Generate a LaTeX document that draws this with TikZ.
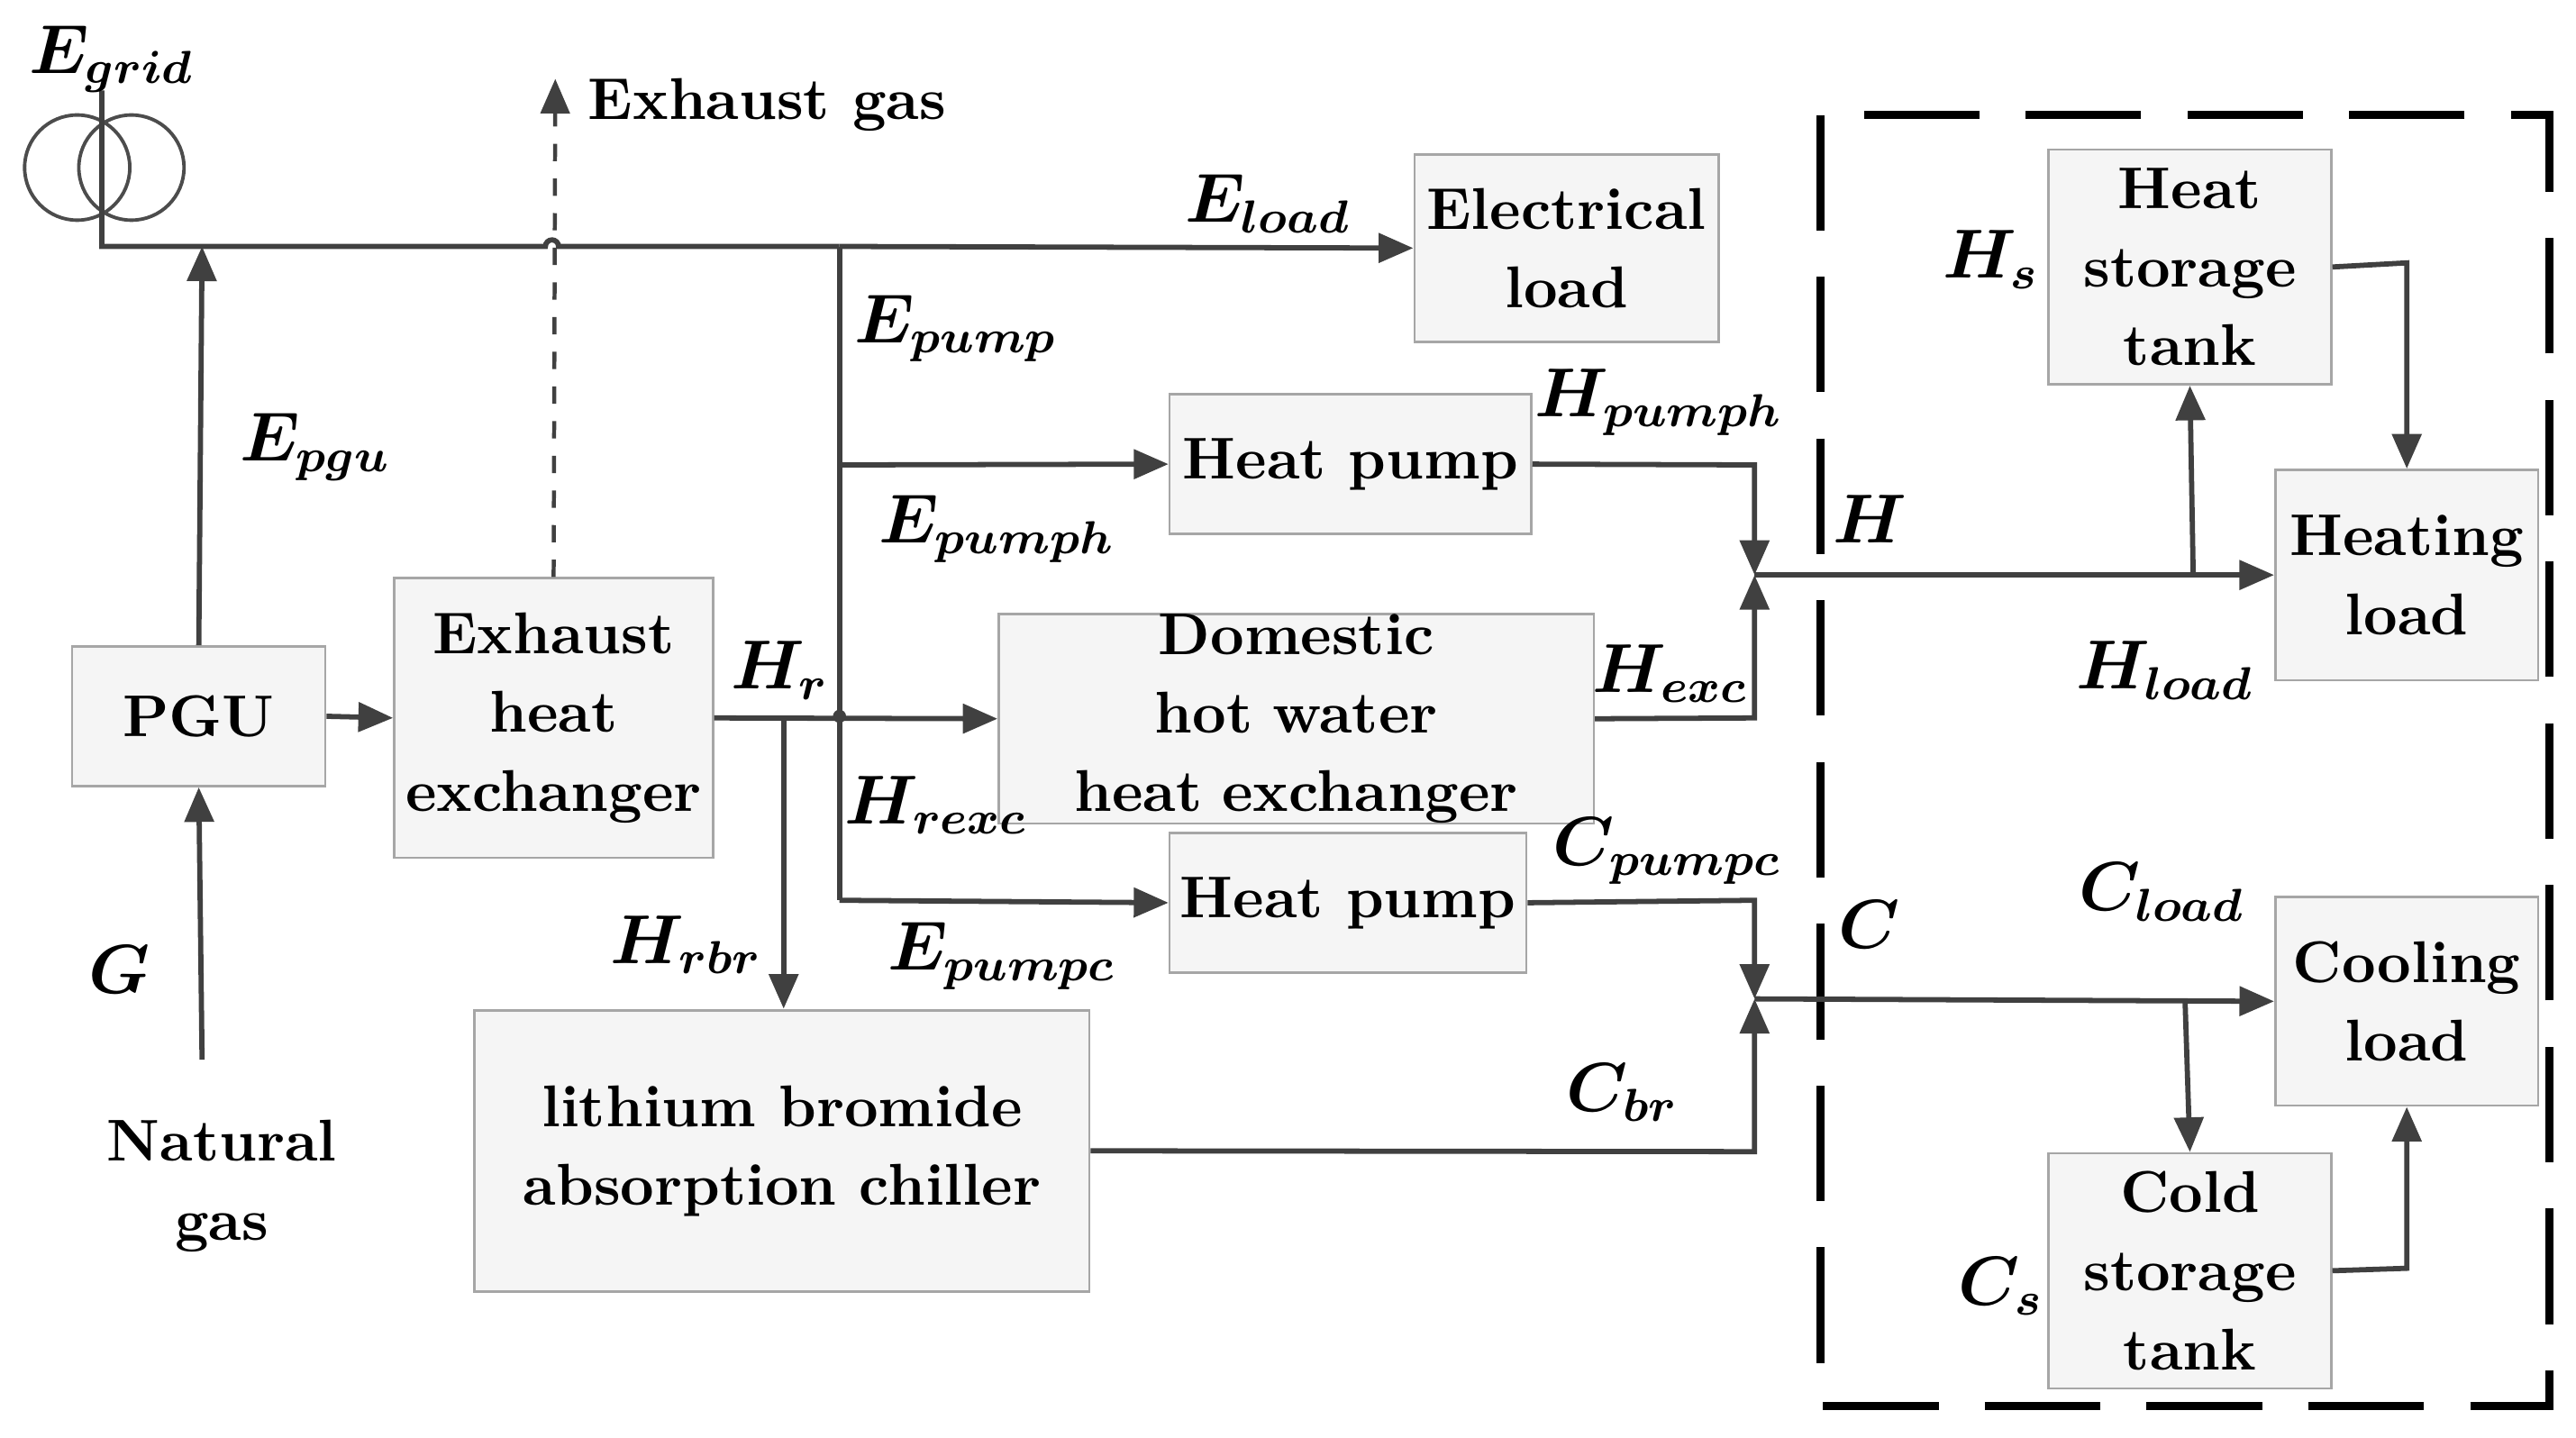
\documentclass[tikz,border=0pt]{standalone}
\usepackage{bm}
\usetikzlibrary{arrows.meta}
\begin{document}
\begin{tikzpicture}[x=0.01cm,y=-0.01cm,
  every node/.style={font=\fontsize{10.2}{13.6}\selectfont\bfseries},
  box/.style={draw=gray!70,fill=gray!8,align=center,inner sep=0pt},
  ln/.style={draw=black!75,line width=0.9pt},
  ar/.style={ln,-{Triangle[length=6pt,width=5pt]}},
  lb/.style={font=\fontsize{11.5}{14}\selectfont}]
\useasboundingbox (0,0) rectangle (1568,875);
% boxes
\node[box,minimum width=1.85cm,minimum height=1.14cm] (el) at (953.5,151) {Electrical\\load};
\node[box,minimum width=1.54cm,minimum height=0.85cm] (pgu) at (121,436) {PGU};
\node[box,minimum width=1.94cm,minimum height=1.70cm] (ehx) at (337,437) {Exhaust\\heat\\exchanger};
\node[box,minimum width=2.20cm,minimum height=0.85cm] (hp1) at (822,282.5) {Heat pump};
\node[box,minimum width=2.17cm,minimum height=0.85cm] (hp2) at (820.5,549.5) {Heat pump};
\node[box,minimum width=3.62cm,minimum height=0.99cm,text width=3.5cm] (dhx) at (789,437.5) {Domestic hot water\\heat exchanger};
\node[box,minimum width=3.74cm,minimum height=1.71cm] (lbc) at (476,700.5) {lithium bromide\\absorption chiller};
\node[box,minimum width=1.72cm,minimum height=1.43cm] (hst) at (1333,162.5) {Heat\\storage\\tank};
\node[box,minimum width=1.60cm,minimum height=1.28cm] (hl) at (1465,350) {Heating\\load};
\node[box,minimum width=1.60cm,minimum height=1.27cm] (cl) at (1465,609.5) {Cooling\\load};
\node[box,minimum width=1.72cm,minimum height=1.43cm] (cst) at (1333,773.5) {Cold\\storage\\tank};
% dashed frame
\draw[line width=1.4pt,dash pattern=on 20pt off 8pt] (1108,70) rectangle (1552,856);
% transformer
\draw[black!70,line width=0.6pt] (47,102) circle (0.32cm) (80,102) circle (0.32cm);
\coordinate (g0) at (62,55);
\coordinate (g1) at (62,150);
\coordinate (bpgu) at (123,150);
\coordinate (bj) at (511,150);
\draw[ln] (g0) -- (g1) -- (332,150) arc (180:0:0.04cm) -- (bj);
\draw[ar] (bj) -- (el.west);
\draw[ar] (pgu.north) -- (bpgu);
\coordinate (ng) at (123,645);
\draw[ar] (ng) -- (pgu.south);
\draw[ar] (pgu.east) -- (ehx.west);
\coordinate (ex) at (338,48);
\draw[ar,dashed,line width=0.7pt] (ehx.north) -- (ex);
% vertical E line
\coordinate (v1) at (511,283);
\coordinate (v2) at (511,548);
\draw[ln] (bj) -- (v2);
\draw[ar] (v1) -- (hp1.west);
\draw[ar] (v2) -- (hp2.west);
% Hr
\draw[ar] (ehx.east) -- (dhx.west);
\fill[black!75] (511,436) circle (0.04cm);
\coordinate (hrb) at (477,436);
\draw[ar] (hrb) -- (477,614);
% heating merge
\coordinate (hm) at (1068,350);
\draw[ar] (hp1.east) -- (1068,283) -- (hm);
\draw[ar] (dhx.east) -- (1068,437) -- (hm);
\draw[ar] (hm) -- (hl.west);
\coordinate (hsb) at (1335,350);
\draw[ar] (hsb) -- (hst.south);
\draw[ar] (hst.east) -- (1465,160) -- (hl.north);
% cooling merge
\coordinate (cm) at (1068,608);
\draw[ar] (hp2.east) -- (1068,548) -- (cm);
\draw[ar] (lbc.east) -- (1068,701) -- (cm);
\draw[ar] (cm) -- (cl.west);
\coordinate (csb) at (1330,608);
\draw[ar] (csb) -- (cst.north);
\draw[ar] (cst.east) -- (1465,772) -- (cl.south);
% labels
\node[lb] at (68,36) {$\bm{E_{grid}}$};
\node at (467,64) {Exhaust gas};
\node[lb] at (772,124) {$\bm{E_{load}}$};
\node[lb] at (582,200) {$\bm{E_{pump}}$};
\node[lb] at (192,272) {$\bm{E_{pgu}}$};
\node[lb] at (607,322) {$\bm{E_{pumph}}$};
\node[lb] at (1010,245) {$\bm{H_{pumph}}$};
\node[lb] at (1138,316) {$\bm{H}$};
\node[lb] at (1212,158) {$\bm{H_s}$};
\node[lb] at (1318,408) {$\bm{H_{load}}$};
\node[lb] at (475,408) {$\bm{H_r}$};
\node[lb] at (1017,410) {$\bm{H_{exc}}$};
\node[lb] at (570,490) {$\bm{H_{rexc}}$};
\node[lb] at (418,575) {$\bm{H_{rbr}}$};
\node[lb] at (610,582) {$\bm{E_{pumpc}}$};
\node[lb] at (1015,518) {$\bm{C_{pumpc}}$};
\node[lb] at (1138,563) {$\bm{C}$};
\node[lb] at (1316,543) {$\bm{C_{load}}$};
\node[lb] at (988,665) {$\bm{C_{br}}$};
\node[lb] at (1218,783) {$\bm{C_s}$};
\node[lb] at (73,590) {$\bm{G}$};
\node[align=center] at (135,722) {Natural\\gas};
\end{tikzpicture}
\end{document}
